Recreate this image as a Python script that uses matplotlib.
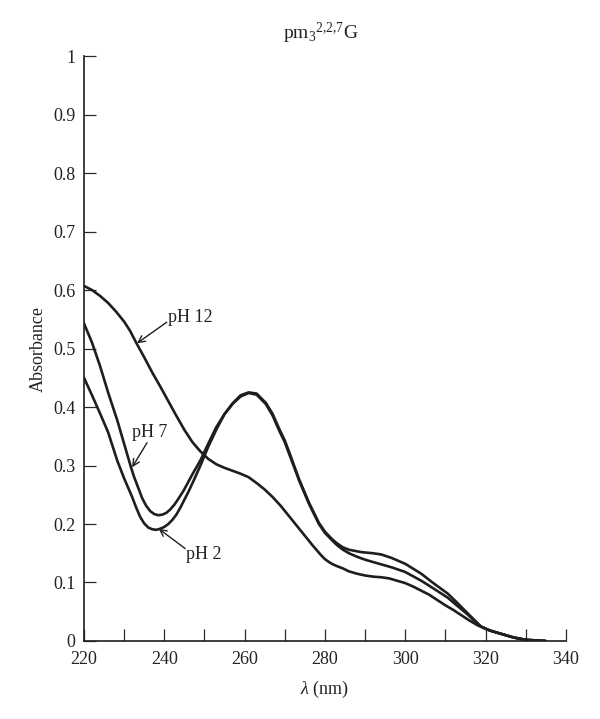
import matplotlib
matplotlib.use("Agg")
import matplotlib.pyplot as plt
from matplotlib.ticker import MultipleLocator, FuncFormatter

plt.rcParams['font.family'] = ['Liberation Serif', 'DejaVu Serif']
plt.rcParams['mathtext.fontset'] = 'custom'
plt.rcParams['mathtext.rm'] = 'Liberation Serif'
plt.rcParams['mathtext.it'] = 'Liberation Serif:italic'

# ---- data ----
wl_ph12 = [220, 222, 224, 226, 228, 230, 231.5, 233, 235, 237, 239, 241, 243, 245,
           247, 249, 251, 253, 255, 257, 259, 261, 263, 265, 267, 269, 271, 273,
           275, 277, 278, 279, 280, 281, 282, 283, 284.5, 286, 288, 290, 292, 294,
           296, 298, 300, 302, 304, 306, 308, 310, 312, 314, 316, 318, 320, 322,
           324, 327, 330, 335]
abs_ph12 = [0.607, 0.600, 0.590, 0.578, 0.563, 0.546, 0.530, 0.510, 0.485, 0.459,
            0.435, 0.410, 0.385, 0.361, 0.340, 0.324, 0.311, 0.302, 0.296, 0.291,
            0.286, 0.280, 0.270, 0.259, 0.246, 0.231, 0.214, 0.197, 0.180, 0.163,
            0.155, 0.147, 0.140, 0.135, 0.131, 0.128, 0.124, 0.119, 0.115, 0.112,
            0.110, 0.109, 0.107, 0.103, 0.099, 0.093, 0.086, 0.079, 0.070, 0.061,
            0.053, 0.044, 0.035, 0.027, 0.021, 0.016, 0.012, 0.006, 0.002, 0.000]

wl_ph7 = [220, 222, 224, 226, 228.3, 230, 231.7, 232.5, 233.5, 234.5, 235.5, 236.5,
          237.5, 238.5, 239.5, 240.5, 241.5, 242.5, 243.5, 244.8, 247, 249, 251,
          252.9, 255, 257.1, 259, 261, 263, 265.3, 267, 268.6, 270, 271.1, 273.6,
          276, 278.5, 280, 281.8, 283, 284.5, 286, 288, 290, 293, 296.6, 300, 304,
          307, 310.6, 313, 315.6, 318.8, 321, 324, 327, 330, 335]
abs_ph7 = [0.543, 0.510, 0.470, 0.425, 0.377, 0.337, 0.297, 0.280, 0.262, 0.244,
           0.231, 0.222, 0.217, 0.215, 0.216, 0.219, 0.225, 0.233, 0.243, 0.257,
           0.285, 0.309, 0.338, 0.365, 0.388, 0.406, 0.418, 0.424, 0.421, 0.405,
           0.385, 0.360, 0.340, 0.320, 0.274, 0.235, 0.200, 0.185, 0.172, 0.164,
           0.156, 0.150, 0.144, 0.139, 0.133, 0.126, 0.118, 0.103, 0.090, 0.074,
           0.060, 0.045, 0.025, 0.018, 0.012, 0.006, 0.002, 0.000]

wl_ph2 = [220, 222, 224, 226, 228.3, 230, 232, 233, 234, 235, 236, 237, 238, 239,
          240, 241, 242, 243, 244, 246, 247.3, 249, 251, 253, 255, 257.1, 259, 261,
          263, 265.3, 267, 268.6, 270, 271.1, 273.6, 276, 278.5, 280, 281.8, 283,
          284.5, 286, 289, 292, 294, 296.6, 300, 304, 307, 310.6, 313, 315.6, 318.8,
          321, 324, 327, 330, 335]
abs_ph2 = [0.450, 0.420, 0.389, 0.357, 0.308, 0.278, 0.246, 0.228, 0.212, 0.201,
           0.194, 0.191, 0.190, 0.192, 0.195, 0.200, 0.207, 0.216, 0.228, 0.255,
           0.274, 0.300, 0.333, 0.362, 0.388, 0.407, 0.420, 0.425, 0.423, 0.407,
           0.388, 0.363, 0.343, 0.323, 0.276, 0.237, 0.202, 0.187, 0.174, 0.167,
           0.160, 0.156, 0.152, 0.150, 0.148, 0.142, 0.132, 0.115, 0.099, 0.081,
           0.065, 0.047, 0.025, 0.018, 0.012, 0.006, 0.002, 0.000]

x_ticks = [220, 240, 260, 280, 300, 320, 340]
y_ticks = [0, 0.1, 0.2, 0.3, 0.4, 0.5, 0.6, 0.7, 0.8, 0.9, 1.0]

# ---- figure ----
fig = plt.figure(figsize=(6.0, 7.19), dpi=100)
ax = fig.add_axes([0.140, 0.1085, 0.803, 0.8135])

line_kw = dict(color='#1e1e1e', lw=1.9, solid_capstyle='round', solid_joinstyle='round')
ax.plot(wl_ph12, abs_ph12, **line_kw)
ax.plot(wl_ph7, abs_ph7, **line_kw)
ax.plot(wl_ph2, abs_ph2, **line_kw)

ax.set_xlim(220, 340)
ax.set_ylim(0, 1)
ax.set_xticks(x_ticks)
ax.xaxis.set_minor_locator(MultipleLocator(10))
ax.set_yticks(y_ticks)
ax.yaxis.set_major_formatter(FuncFormatter(lambda v, p: f"{v:g}"))

for s in ['top', 'right']:
    ax.spines[s].set_visible(False)
for s in ['left', 'bottom']:
    ax.spines[s].set_linewidth(1.2)
    ax.spines[s].set_color('#1e1e1e')

ax.tick_params(axis='both', which='both', direction='in', length=8.5, width=0.9,
               color='#2a2a2a', labelsize=13, labelcolor='#222222')
ax.tick_params(axis='x', which='both', pad=7)
ax.tick_params(axis='y', which='both', pad=6)

ax.set_xlabel(r'$\mathit{\lambda}$ (nm)', fontsize=13, color='#222222', labelpad=8)
ax.set_ylabel('Absorbance', fontsize=13, color='#222222', labelpad=5)
fig.text(0.535, 0.9455, r'pm$_3$$^{2{,}2{,}7}$G', fontsize=14, ha='center', va='baseline',
         color='#222222')

arrow_kw = dict(arrowstyle='->', lw=1.0, color='#1e1e1e', shrinkA=0, shrinkB=0,
                mutation_scale=12)
ax.annotate('', xy=(233.2, 0.509), xytext=(240.6, 0.545), arrowprops=arrow_kw)
ax.text(241.0, 0.553, 'pH 12', fontsize=13, ha='left', va='center', color='#222222')

ax.annotate('', xy=(232.0, 0.297), xytext=(235.7, 0.339), arrowprops=arrow_kw)
ax.text(236.4, 0.357, 'pH 7', fontsize=13, ha='center', va='center', color='#222222')

ax.annotate('', xy=(238.6, 0.192), xytext=(245.2, 0.158), arrowprops=arrow_kw)
ax.text(245.4, 0.148, 'pH 2', fontsize=13, ha='left', va='center', color='#222222')

fig.savefig('out.png', dpi=100, facecolor='white')
